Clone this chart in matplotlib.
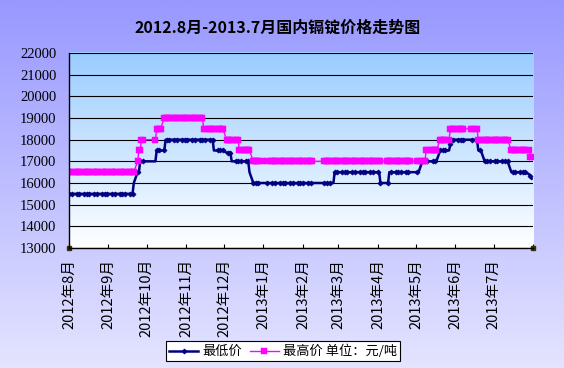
import numpy as np
import pandas as pd
import matplotlib
matplotlib.use('Agg')
import matplotlib.pyplot as plt
from matplotlib.colors import LinearSegmentedColormap

plt.rcParams['font.family'] = ['Noto Sans CJK SC', 'DejaVu Sans']

title = '2012.8月-2013.7月国内镉锭价格走势图'

# 价格变动点：从该日起执行的价格（元/吨）
low_from = ['2012-08-01', '2012-09-21', '2012-09-24', '2012-09-26', '2012-10-09',
            '2012-10-16', '2012-11-23', '2012-12-03', '2012-12-07', '2012-12-21',
            '2012-12-24', '2013-02-26', '2013-04-03', '2013-04-10', '2013-05-06',
            '2013-05-20', '2013-05-28', '2013-05-29', '2013-06-19', '2013-06-24',
            '2013-07-15', '2013-07-29', '2013-07-30', '2013-07-31']
low_price = [15500, 16000, 16500, 17000, 17500,
             18000, 17500, 17400, 17000, 16500,
             16000, 16500, 16000, 16500, 17000,
             17500, 17800, 18000, 17500, 17000,
             16500, 16400, 16300, 16200]

high_from = ['2012-08-01', '2012-09-24', '2012-09-25', '2012-09-27', '2012-10-09',
             '2012-10-15', '2012-11-15', '2012-12-03', '2012-12-13', '2012-12-24',
             '2013-05-09', '2013-05-20', '2013-05-28', '2013-06-19', '2013-07-15',
             '2013-07-30']
high_price = [16500, 17000, 17500, 18000, 18500,
              19000, 18500, 18000, 17500, 17000,
              17500, 18000, 18500, 18000, 17500,
              17200]

# 休市日
holidays = ['2012-10-01', '2012-10-02', '2012-10-03', '2012-10-04', '2012-10-05',
            '2013-01-01', '2013-01-02', '2013-01-03',
            '2013-02-11', '2013-02-12', '2013-02-13', '2013-02-14', '2013-02-15',
            '2013-04-04', '2013-04-05', '2013-04-29', '2013-04-30', '2013-05-01',
            '2013-06-10', '2013-06-11', '2013-06-12']

month_ticks = ['2012-08-01', '2012-09-01', '2012-10-01', '2012-11-01', '2012-12-01',
               '2013-01-01', '2013-02-01', '2013-03-01', '2013-04-01', '2013-05-01',
               '2013-06-01', '2013-07-01', '2013-08-01']
month_labels = ['2012年8月', '2012年9月', '2012年10月', '2012年11月', '2012年12月',
                '2013年1月', '2013年2月', '2013年3月', '2013年4月', '2013年5月',
                '2013年6月', '2013年7月', '']
y_ticks = list(range(13000, 22001, 1000))

days = pd.bdate_range('2012-08-01', '2013-07-31', freq='C', holidays=holidays)


def step_series(starts, prices):
    idx = np.searchsorted(pd.to_datetime(starts).values, days.values, side='right') - 1
    return np.array(prices)[idx]


low = step_series(low_from, low_price)
high = step_series(high_from, high_price)

fig = plt.figure(figsize=(5.64, 3.68), dpi=100)

# 背景渐变
bg = fig.add_axes([0, 0, 1, 1], zorder=-10)
grad = np.linspace(0, 1, 256).reshape(-1, 1)
fig_cmap = LinearSegmentedColormap.from_list('fig', ['#E4E4FF', '#9898FF'])
plot_cmap = LinearSegmentedColormap.from_list('plot', ['#FFFFFF', '#9ACCFF'])
area = [0.1223, 0.3261, 0.9450, 0.8560]
bg.imshow(grad, extent=[0, 1, 0, 1], origin='lower', aspect='auto', cmap=fig_cmap)
bg.imshow(grad, extent=[area[0], area[2], area[1], area[3]], origin='lower',
          aspect='auto', cmap=plot_cmap)
bg.set_xlim(0, 1)
bg.set_ylim(0, 1)
bg.axis('off')

ax = fig.add_axes([area[0], area[1], area[2] - area[0], area[3] - area[1]])
ax.set_facecolor('none')

ax.plot(days, low, color='#000080', lw=1.8, marker='D', ms=2.6, mew=0.5,
        markevery=2, label='最低价')
ax.plot(days, high, color='#FF00FF', lw=1, marker='s', ms=3.7, mew=0.3,
        mec='#FF00FF', label='最高价 单位：元/吨')

ax.set_ylim(y_ticks[0], y_ticks[-1])
ax.set_xlim(pd.Timestamp(month_ticks[0]), pd.Timestamp(month_ticks[-1]))
ax.plot(ax.get_xlim(), [y_ticks[0], y_ticks[0]], ls='none', marker='s', ms=3.5,
        color='#333300', clip_on=False)

ax.set_yticks(y_ticks)
ax.grid(axis='y', color='black', lw=0.8)
ax.set_axisbelow(True)
for s in ['top', 'right']:
    ax.spines[s].set_visible(False)
for s in ['left', 'bottom']:
    ax.spines[s].set_color('black')
    ax.spines[s].set_linewidth(1)

ax.tick_params(axis='y', length=0, pad=9, labelsize=10.5,
               labelfontfamily='Liberation Serif')
ax.set_xticks(pd.to_datetime(month_ticks))
ax.set_xticklabels(month_labels, rotation=90, fontsize=10.5)
ax.tick_params(axis='x', direction='in', length=3, pad=8)

fig.text(0.493, 0.924, title, ha='center', va='center', fontsize=11.5,
         fontweight='bold', color='black')

leg = fig.legend(loc='center', bbox_to_anchor=(0.502, 0.045), ncol=2, fontsize=9.5,
                 frameon=True, fancybox=False, edgecolor='black', framealpha=1,
                 borderpad=0.25, handlelength=2.2, handletextpad=0.3, columnspacing=0.6)
leg.get_frame().set_linewidth(0.8)

fig.savefig('out.png', dpi=100)
